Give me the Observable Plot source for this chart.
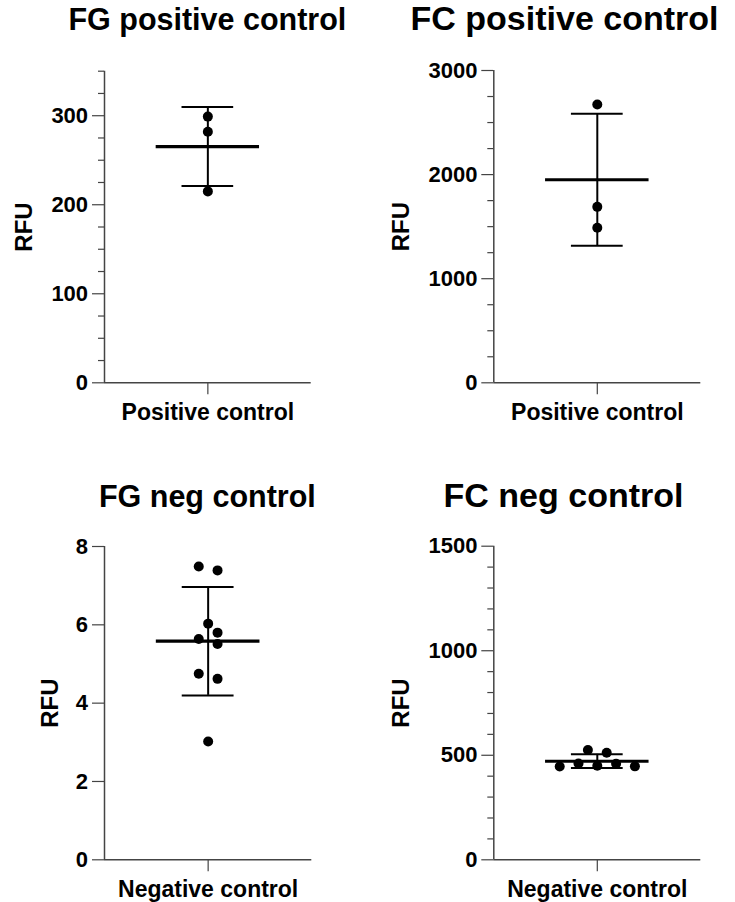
<!DOCTYPE html>
<html>
<head>
<meta charset="utf-8">
<script src="https://cdn.jsdelivr.net/npm/d3@7"></script>
<script src="https://cdn.jsdelivr.net/npm/@observablehq/plot@0.6"></script>
<style>
  html, body { margin: 0; padding: 0; background: #fff; }
  #fig { position: relative; width: 735px; height: 902px; background: #fff;
         font-family: "Liberation Sans", Arial, Helvetica, sans-serif; overflow: hidden; }
  .title { position: absolute; transform: translateX(-50%); text-align: center;
           font-weight: bold; color: #000; white-space: nowrap; }
  .panel { position: absolute; }
</style>
</head>
<body>
<div id="fig"></div>
<script>
// Replicate readings (RFU), in the order they were entered
const fgPositive = [299, 282, 215];
const fcPositive = [2673, 1690, 1489];
const fgNegative = [3.02, 4.62, 4.75, 5.51, 5.64, 5.80, 6.03, 7.39, 7.49];
const fcNegative = [450, 459, 461, 447, 446, 512, 525];

const titles = ["FG positive control", "FC positive control", "FG neg control", "FC neg control"];
const categories = ["Positive control", "Positive control", "Negative control", "Negative control"];
const yLabel = "RFU";

// Axis extents and tick values
const yMax = [350, 3000, 8, 1500];
const majorTicks = [[0, 100, 200, 300], [0, 1000, 2000, 3000], [0, 2, 4, 6, 8], [0, 500, 1000, 1500]];
const minorStep = [25, 250, null, 100];

const FONT = '"Liberation Sans", Arial, Helvetica, sans-serif';
const AXIS = "#444";

// Column-scatter layout: points that would overlap vertically are spread into
// side-by-side slots (odd crowds centred on 0, even crowds straddling it).
function scatterSlots(values, pxPerUnit, minGap) {
  const order = d3.range(values.length).sort((a, b) => values[a] - values[b]);
  const groups = [];
  let cur = [order[0]];
  for (let i = 1; i < order.length; i++) {
    if ((values[order[i]] - values[order[i - 1]]) * pxPerUnit < minGap) cur.push(order[i]);
    else { groups.push(cur); cur = [order[i]]; }
  }
  groups.push(cur);
  const slot = new Array(values.length);
  for (const g of groups) {
    let crowd = 1;
    for (let i = 0; i < g.length; i++) {
      let n = 0;
      for (let j = i; j < g.length; j++) if ((values[g[j]] - values[g[i]]) * pxPerUnit < minGap) n++;
      crowd = Math.max(crowd, n);
    }
    const cands = [];
    if (crowd % 2) { cands.push(0); for (let m = 1; m <= g.length; m++) cands.push(2 * m, -2 * m); }
    else { for (let m = 0; m <= g.length; m++) cands.push(2 * m + 1, -(2 * m + 1)); }
    const placed = [];
    for (const i of g.slice().sort((a, b) => a - b)) {
      for (const s of cands) {
        if (placed.every(j => slot[j] !== s || Math.abs(values[j] - values[i]) * pxPerUnit >= minGap)) {
          slot[i] = s; placed.push(i); break;
        }
      }
    }
  }
  return slot;
}

function makePanel(values, k, box) {
  const innerW = box.width - box.ml - box.mr;
  const innerH = box.height - box.mt - box.mb;
  const pxPerY = innerH / yMax[k];
  const slotPx = 9.4;
  const slots = scatterSlots(values, pxPerY, 8);
  const pts = values.map((v, i) => ({x: 1 + slots[i] * slotPx / (innerW / 2), y: v}));

  const mean = d3.mean(values);
  const sd = d3.deviation(values);
  const minor = minorStep[k] == null ? [] :
    d3.range(0, yMax[k] + 1e-9, minorStep[k]).filter(v => !majorTicks[k].some(t => Math.abs(t - v) < 1e-9));

  return Plot.plot({
    width: box.width, height: box.height,
    marginLeft: box.ml, marginRight: box.mr, marginTop: box.mt, marginBottom: box.mb,
    style: {fontFamily: FONT, overflow: "visible", background: "transparent", maxWidth: "none", color: "#000"},
    x: {domain: [0, 2]},
    y: {domain: [0, yMax[k]]},
    marks: [
      Plot.axisY(majorTicks[k], {tickSize: 12, tickPadding: 4.4, fontSize: 22, fontWeight: "bold",
        stroke: AXIS, strokeWidth: 1.2, fill: "#000", tickFormat: d => String(d), label: null}),
      minor.length ? Plot.axisY(minor, {tickSize: 6, stroke: AXIS, strokeWidth: 1.2, tickFormat: () => "", label: null}) : null,
      Plot.axisX([1], {tickSize: 12, tickPadding: 9, fontSize: 23, fontWeight: "bold",
        stroke: AXIS, strokeWidth: 1.2, fill: "#000", tickFormat: () => categories[k], label: null}),
      Plot.ruleX([0], {stroke: AXIS, strokeWidth: 1.5}),
      Plot.ruleY([0], {stroke: AXIS, strokeWidth: 1.5}),
      Plot.text([yLabel], {text: d => d, frameAnchor: "left", dx: box.labelDx, rotate: -90,
        fontSize: 24, fontWeight: "bold", fill: "#000", lineAnchor: "middle", textAnchor: "middle"}),
      // mean with SD error bar
      Plot.ruleX([{x: 1, lo: mean - sd, hi: mean + sd}], {x: "x", y1: "lo", y2: "hi", stroke: "#000", strokeWidth: 2}),
      Plot.ruleY([mean - sd, mean + sd], {x1: () => 0.75, x2: () => 1.25, stroke: "#000", strokeWidth: 2}),
      Plot.ruleY([mean], {x1: () => 0.5, x2: () => 1.5, stroke: "#000", strokeWidth: 3.2}),
      Plot.dot(pts, {x: "x", y: "y", r: 5, fill: "#000", stroke: "none"})
    ]
  });
}

const fig = document.getElementById("fig");
const series = [fgPositive, fcPositive, fgNegative, fcNegative];
const boxes = [
  {left: 0,   top: 40,  width: 367, height: 400, ml: 104,   mr: 56.3, mt: 30.7, mb: 57.7, labelDx: -79.8},
  {left: 367, top: 40,  width: 368, height: 400, ml: 126.3, mr: 34.7, mt: 30,   mb: 57.7, labelDx: -92.6},
  {left: 0,   top: 520, width: 367, height: 382, ml: 104,   mr: 55.7, mt: 26,   mb: 42.7, labelDx: -53.7},
  {left: 367, top: 520, width: 368, height: 382, ml: 126.3, mr: 34.7, mt: 25.7, mb: 42.7, labelDx: -92.6}
];
// Title placement: centre x, baseline y, font size
const titleSpec = [
  {cx: 207.4, base: 29.5, size: 30.5},
  {cx: 564.5, base: 29.5, size: 34},
  {cx: 207.4, base: 507, size: 30.5},
  {cx: 563.5, base: 507, size: 34}
];

series.forEach((values, k) => {
  const box = boxes[k];
  const holder = document.createElement("div");
  holder.className = "panel";
  holder.style.left = box.left + "px";
  holder.style.top = box.top + "px";
  holder.appendChild(makePanel(values, k, box));
  fig.appendChild(holder);

  const s = titleSpec[k];
  const t = document.createElement("div");
  t.className = "title";
  t.textContent = titles[k];
  t.style.fontSize = s.size + "px";
  t.style.lineHeight = s.size + "px";
  t.style.left = s.cx + "px";
  // baseline sits about 0.8465em below the top of a 1em line box
  t.style.top = (s.base - 0.8465 * s.size) + "px";
  fig.appendChild(t);
});
</script>
</body>
</html>
